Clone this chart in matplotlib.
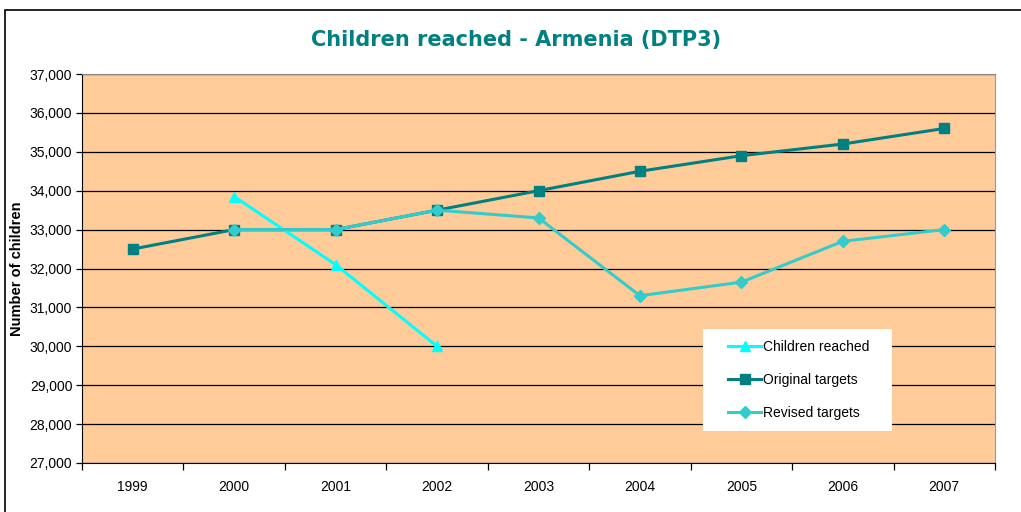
import matplotlib.pyplot as plt
import numpy as np
from matplotlib.patches import Rectangle

plt.rcParams['font.family'] = ['Liberation Sans', 'DejaVu Sans']

years = ['1999', '2000', '2001', '2002', '2003', '2004', '2005', '2006', '2007']
children_reached = [None, 33850, 32100, 30000, None, None, None, None, None]
original_targets = [32500, 33000, 33000, 33500, 34000, 34500, 34900, 35200, 35600]
revised_targets = [None, 33000, 33000, 33500, 33300, 31300, 31650, 32700, 33000]


def to_arr(vals):
    return np.array([np.nan if v is None else v for v in vals], dtype=float)


fig = plt.figure(figsize=(10.21, 5.12), dpi=100)
# outer chart frame (cut off at right and bottom like the source)
fig.patches.append(Rectangle((5 / 1021, -0.01), 1.1, (502 / 512) + 0.01,
                             transform=fig.transFigure, fill=False,
                             edgecolor='black', linewidth=1.2))

ax = fig.add_axes([82 / 1021, 49 / 512, 913 / 1021, 389 / 512])
ax.set_facecolor('#FFCC99')

x = np.arange(len(years))
ax.plot(x, to_arr(children_reached), color='#00FFFF', marker='^', markersize=7,
        linewidth=2.2, label='Children reached', zorder=4)
ax.plot(x, to_arr(original_targets), color='#008080', marker='s', markersize=7,
        linewidth=2.2, label='Original targets', zorder=3)
ax.plot(x, to_arr(revised_targets), color='#33CCCC', marker='D', markersize=6.5,
        linewidth=2.2, label='Revised targets', zorder=4)

ax.set_xlim(-0.5, len(years) - 0.5)
ax.set_ylim(27000, 37000)
ax.set_yticks(np.arange(27000, 37001, 1000))
ax.set_yticklabels([f'{v:,}' for v in range(27000, 37001, 1000)], fontsize=10)
ax.yaxis.grid(True, color='black', linewidth=0.9)
ax.set_axisbelow(True)

ax.set_xticks(x)
ax.set_xticklabels(years, fontsize=10)
ax.tick_params(axis='x', which='major', length=0, pad=12)
ax.set_xticks(np.arange(-0.5, len(years), 1), minor=True)
ax.tick_params(axis='x', which='minor', length=5, width=0.9, direction='out')
ax.tick_params(axis='y', length=4, width=0.9, direction='out', pad=3)

ax.spines['top'].set_color('#888888')
ax.spines['right'].set_color('#999999')
ax.spines['left'].set_color('black')
ax.spines['bottom'].set_color('black')

ax.set_ylabel('Number of children', fontsize=10.5, fontweight='bold', labelpad=4)

fig.text(516 / 1021, 1 - 40 / 512, 'Children reached - Armenia (DTP3)',
         ha='center', va='center', fontsize=15, fontweight='bold',
         color='#008080', family='DejaVu Sans')

# white legend box
ax.add_patch(Rectangle(((703 - 82) / 913, (463 - 431) / 389), 189 / 913, 102 / 389,
                       transform=ax.transAxes, facecolor='white', edgecolor='none',
                       zorder=5))
leg = ax.legend(loc='upper left', bbox_to_anchor=((728 - 82) / 913, (463 - 340) / 389),
                fontsize=10, frameon=False, borderpad=0, borderaxespad=0,
                labelspacing=1.35, handlelength=2.4, handletextpad=0.15)
leg.set_zorder(6)

fig.savefig('out.png', dpi=100)
